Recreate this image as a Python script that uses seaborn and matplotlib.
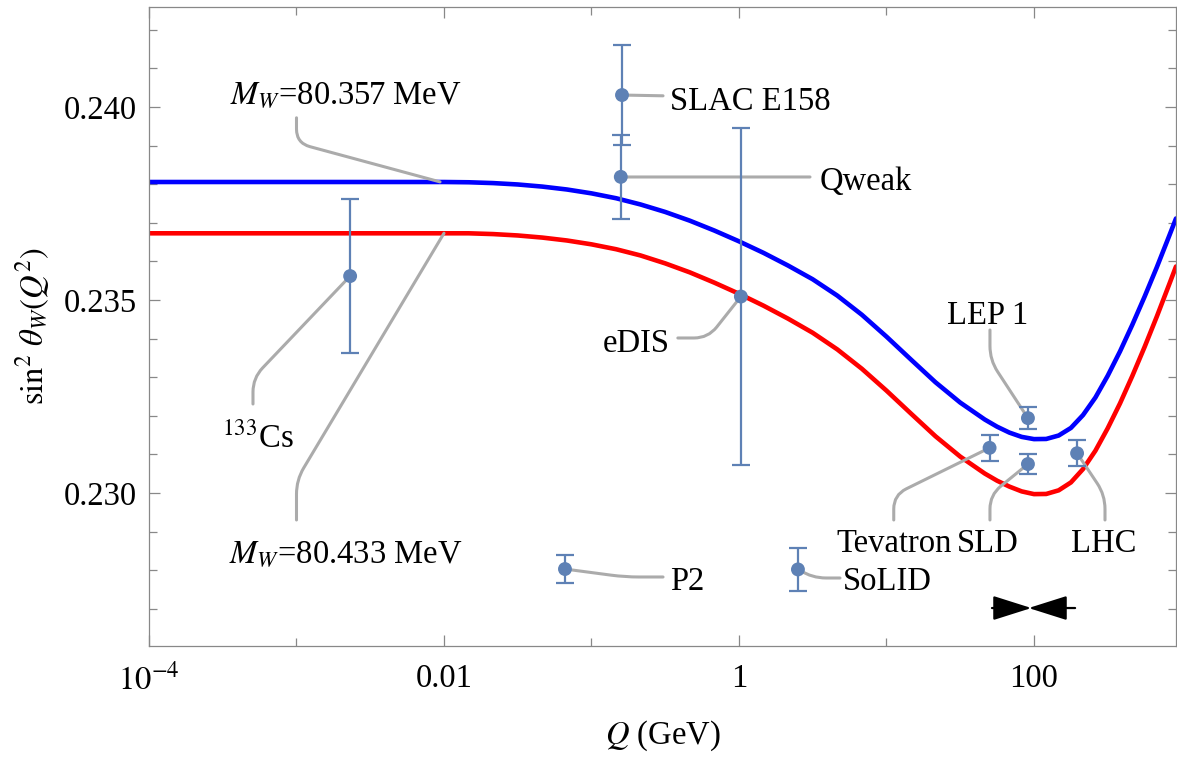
import numpy as np
import pandas as pd
import matplotlib
matplotlib.use("Agg")
import matplotlib.pyplot as plt
import seaborn as sns
from matplotlib.ticker import FixedLocator, FixedFormatter, NullFormatter, MultipleLocator
from matplotlib.patches import FancyArrowPatch

# ---------------- data ----------------
curve_Q = [1e-4, 0.01, 0.0147, 0.0215, 0.0316, 0.0464, 0.0681, 0.1, 0.147, 0.215,
           0.316, 0.464, 0.681, 1, 1.47, 2.15, 3.16, 4.64, 6.81, 10,
           14.7, 21.5, 31.6, 46.4, 56.2, 68.1, 82.5, 100, 121, 147,
           178, 215, 261, 316, 383, 464, 562, 681, 825, 918]
blue_vals = [0.238057, 0.238057, 0.238050, 0.238029, 0.237993, 0.237938, 0.237863, 0.237763, 0.237636, 0.237475,
             0.237281, 0.237055, 0.236799, 0.236520, 0.236219, 0.235893, 0.235537, 0.235114, 0.234617, 0.234051,
             0.233452, 0.232868, 0.232343, 0.231903, 0.231718, 0.231565, 0.231454, 0.231396, 0.231400, 0.231489,
             0.231686, 0.232019, 0.232475, 0.233036, 0.233668, 0.234357, 0.235085, 0.235852, 0.236658, 0.237112]
red_vals = [0.236728, 0.236728, 0.236728, 0.236708, 0.236672, 0.236617, 0.236542, 0.236442, 0.236315, 0.236154,
            0.235949, 0.235716, 0.235449, 0.235162, 0.234851, 0.234517, 0.234151, 0.233720, 0.233218, 0.232652,
            0.232053, 0.231469, 0.230944, 0.230504, 0.230319, 0.230166, 0.230042, 0.229971, 0.229975, 0.230069,
            0.230274, 0.230620, 0.231097, 0.231676, 0.232321, 0.233031, 0.233782, 0.234575, 0.235402, 0.235868]
curve_names = ["80.357", "80.433"]

experiments = ["133Cs", "SLAC E158", "Qweak", "eDIS", "P2", "SoLID",
               "Tevatron", "LEP 1", "SLD", "LHC"]
exp_Q = [0.00231, 0.161, 0.158, 1.03, 0.0661, 2.51, 50.0, 91.0, 91.0, 196.0]
exp_val = [0.23562, 0.24031, 0.23819, 0.23509, 0.22803, 0.22802,
           0.23117, 0.23194, 0.23075, 0.23103]
exp_err = [0.00200, 0.00130, 0.00109, 0.00437, 0.00036, 0.00056,
           0.00034, 0.00028, 0.00026, 0.00034]

arrow_from_Q = [51.9, 190.0]
arrow_tip_Q = [96.0, 92.0]
arrow_level = 0.22702

x_tick_vals = [1e-4, 1e-2, 1, 100]
x_tick_labels = [r"$10^{-4}$", "0.01", "1", "100"]
x_minor_vals = [1e-3, 0.1, 10, 1000]
y_tick_vals = [0.230, 0.235, 0.240]
y_tick_labels = ["0.230", "0.235", "0.240"]

# ---------------- style ----------------
sns.set_theme(style="ticks")
plt.rcParams["font.family"] = ["Liberation Serif", "DejaVu Serif"]
plt.rcParams["mathtext.fontset"] = "stix"
plt.rcParams["font.size"] = 23.5
plt.rcParams["text.color"] = "black"
plt.rcParams["axes.labelcolor"] = "black"

FS = 23.5
PT_COLOR = "#5E81B5"
LEAD = "#ababab"
AX_GRAY = "#888888"

fig = plt.figure(figsize=(11.77, 7.57), dpi=100)
ax = fig.add_axes([149 / 1177, 1 - 645.7 / 757, (1176 - 149) / 1177, (645.7 - 7.3) / 757])
ax.set_xscale("log")
ax.set_xlim(1e-4, 918)
ax.set_ylim(0.226044, 0.242583)

# curves
n = len(curve_Q)
df_curves = pd.DataFrame({
    "Q": curve_Q * 2,
    "val": blue_vals + red_vals,
    "MW": [curve_names[0]] * n + [curve_names[1]] * n,
})
sns.lineplot(data=df_curves, x="Q", y="val", hue="MW",
             palette={curve_names[0]: "#0000ff", curve_names[1]: "#ff0000"},
             linewidth=3.3, legend=False, sort=False, ax=ax, zorder=2)
for ln in ax.lines:
    ln.set_solid_joinstyle("round")

# data points
ax.errorbar(exp_Q, exp_val, yerr=exp_err, fmt="none", ecolor=PT_COLOR,
            elinewidth=1.6, capsize=6.5, capthick=1.6, zorder=4)
sns.scatterplot(x=exp_Q, y=exp_val, color=PT_COLOR, s=100, edgecolor="none",
                ax=ax, zorder=5)

# axes styling
ax.xaxis.set_major_locator(FixedLocator(x_tick_vals))
ax.xaxis.set_major_formatter(FixedFormatter(x_tick_labels))
ax.xaxis.set_minor_locator(FixedLocator(x_minor_vals))
ax.xaxis.set_minor_formatter(NullFormatter())
ax.yaxis.set_major_locator(FixedLocator(y_tick_vals))
ax.yaxis.set_major_formatter(FixedFormatter(y_tick_labels))
ax.yaxis.set_minor_locator(MultipleLocator(0.001))
ax.tick_params(which="major", direction="in", length=8, width=0.9, color=AX_GRAY,
               top=True, right=True, labelsize=FS, labelcolor="black")
ax.tick_params(which="minor", direction="in", length=5.5, width=0.9, color=AX_GRAY,
               top=True, right=True)
ax.tick_params(axis="x", which="major", pad=13)
ax.tick_params(axis="y", which="major", pad=8.5)
for s in ax.spines.values():
    s.set_color(AX_GRAY)
    s.set_linewidth(0.9)

ax.set_xlabel(r"$Q$ (GeV)", fontsize=FS, labelpad=16, color="black")
ax.set_ylabel(r"$\sin^2\,\theta_W(Q^2)$", fontsize=FS, labelpad=9, color="black")

# ---------------- labels & callouts ----------------
labels = {
    "133Cs": (r"$^{133}$Cs", 5.48e-4, 0.231166, "center"),
    "SLAC E158": ("SLAC E158", 0.340, 0.239922, "left"),
    "Qweak": ("Qweak", 3.54, 0.237850, "left"),
    "eDIS": ("eDIS", 0.340, 0.233653, "right"),
    "P2": ("P2", 0.340, 0.227487, "left"),
    "SoLID": ("SoLID", 5.07, 0.227487, "left"),
    "Tevatron": ("Tevatron", 11.2, 0.228472, "center"),
    "LEP 1": ("LEP 1", 48.8, 0.234378, "center"),
    "SLD": ("SLD", 48.9, 0.228472, "center"),
    "LHC": ("LHC", 298, 0.228472, "center"),
    "MW1": (r"$M_W$=80.357 MeV", 2.17e-3, 0.240078, "center"),
    "MW2": (r"$M_W$=80.433 MeV", 2.17e-3, 0.228212, "center"),
}
for key, (txt, qx, vy, ha) in labels.items():
    ax.text(qx, vy, txt, fontsize=FS, ha=ha, va="baseline", color="black", zorder=6)

leaders = [
    [(5.07e-4, 0.232306), (5.07e-4, 0.232979), (0.00231, 0.23562)],
    [(0.161, 0.24031), (0.3055, 0.24029)],
    [(0.158, 0.238187), (3.03, 0.238187)],
    [(0.385, 0.234016), (0.617, 0.234016), (1.03, 0.23509)],
    [(0.0661, 0.22803), (0.1687, 0.227824), (0.3055, 0.227824)],
    [(2.51, 0.22803), (3.13, 0.227798), (4.84, 0.227798)],
    [(11.2, 0.229301), (11.2, 0.229948), (50.0, 0.23117)],
    [(50.3, 0.229301), (50.3, 0.229948), (91.0, 0.23075)],
    [(303, 0.229301), (303, 0.229948), (196.0, 0.23103)],
    [(50.3, 0.234223), (50.3, 0.233446), (91.0, 0.23194)],
    [(0.001, 0.23972), (0.001, 0.239067), (0.0094, 0.23806)],
    [(0.001, 0.229301), (0.001, 0.230337), (0.01, 0.23673)],
]
for pts in leaders:
    if len(pts) == 2:
        cs = "arc3,rad=0"
        a, b = pts
    else:
        a, p, b = pts
        A, P, B = (ax.transData.transform(q) for q in (a, p, b))
        angA = np.degrees(np.arctan2(P[1] - A[1], P[0] - A[0]))
        angB = np.degrees(np.arctan2(P[1] - B[1], P[0] - B[0]))
        cs = f"angle,angleA={angA:.3f},angleB={angB:.3f},rad=14"
    ax.add_patch(FancyArrowPatch(a, b, transform=ax.transData, arrowstyle="-",
                                 connectionstyle=cs, color=LEAD, linewidth=2.2,
                                 shrinkA=0, shrinkB=0, zorder=3))

# black arrows near Z pole
for q0, q1 in zip(arrow_from_Q, arrow_tip_Q):
    ax.add_patch(FancyArrowPatch((q0, arrow_level), (q1, arrow_level),
                                 transform=ax.transData,
                                 arrowstyle="-|>,head_length=1.2,head_width=0.38",
                                 mutation_scale=20, color="black", linewidth=1.6,
                                 shrinkA=0, shrinkB=0, zorder=6))

fig.savefig("out.png", dpi=100)
